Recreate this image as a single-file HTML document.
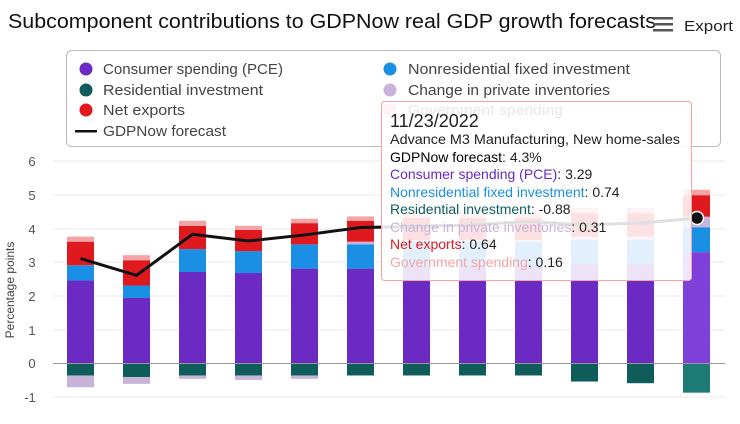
<!DOCTYPE html>
<html><head><meta charset="utf-8"><style>
html,body{margin:0;padding:0;background:#fff;}
svg{display:block;font-family:"Liberation Sans",sans-serif;}
</style></head><body>
<svg id="sv" width="740" height="424" viewBox="0 0 740 424" xmlns="http://www.w3.org/2000/svg">
<text x="8" y="28" font-size="20" fill="#111" textLength="648" lengthAdjust="spacingAndGlyphs">Subcomponent contributions to GDPNow real GDP growth forecasts</text>
<g fill="#555"><rect x="653" y="17" width="20" height="2.5"/><rect x="653" y="23" width="20" height="2.5"/><rect x="653" y="29" width="20" height="2.5"/></g>
<text x="684" y="31" font-size="15" fill="#222" textLength="49" lengthAdjust="spacingAndGlyphs">Export</text>
<rect x="66.5" y="50.5" width="654" height="96" rx="5" fill="#fff" stroke="#bbb"/>
<g font-size="15" fill="#444">
<circle cx="86" cy="69" r="6.5" fill="#6a2ac3"/><text x="103" y="74" textLength="180" lengthAdjust="spacingAndGlyphs">Consumer spending (PCE)</text>
<circle cx="86" cy="90" r="6.5" fill="#0e5d5b"/><text x="103" y="95" textLength="160" lengthAdjust="spacingAndGlyphs">Residential investment</text>
<circle cx="86" cy="110" r="6.5" fill="#e0191f"/><text x="103" y="115" textLength="82" lengthAdjust="spacingAndGlyphs">Net exports</text>
<rect x="75" y="130" width="22" height="2.5" fill="#111"/><text x="103" y="136" textLength="123" lengthAdjust="spacingAndGlyphs">GDPNow forecast</text>
<circle cx="390" cy="69" r="6.5" fill="#1a8fe3"/><text x="408" y="74" textLength="222" lengthAdjust="spacingAndGlyphs">Nonresidential fixed investment</text>
<circle cx="390" cy="90" r="6.5" fill="#c8b4d8"/><text x="408" y="95" textLength="202" lengthAdjust="spacingAndGlyphs">Change in private inventories</text>
<circle cx="390" cy="110" r="6.5" fill="#f4a4a4"/><text x="408" y="115" textLength="155" lengthAdjust="spacingAndGlyphs">Government spending</text>
</g>
<g font-size="13" fill="#555" text-anchor="middle">
<text x="32" y="166">6</text><text x="32" y="200">5</text><text x="32" y="234">4</text><text x="32" y="267">3</text><text x="32" y="301">2</text><text x="32" y="335">1</text><text x="32" y="368">0</text><text x="30" y="402">-1</text>
</g>
<text transform="translate(14,290) rotate(-90)" font-size="12" fill="#444" text-anchor="middle">Percentage points</text>
<g stroke="#e8e8e8" stroke-width="1">
<line x1="53" y1="161" x2="725" y2="161"/><line x1="53" y1="195" x2="725" y2="195"/><line x1="53" y1="229" x2="725" y2="229"/><line x1="53" y1="262" x2="725" y2="262"/><line x1="53" y1="296" x2="725" y2="296"/><line x1="53" y1="330" x2="725" y2="330"/><line x1="53" y1="397" x2="725" y2="397"/>
</g>
<g id="bars"></g>
<line x1="53" y1="363.5" x2="725" y2="363.5" stroke="#999" stroke-width="1"/>
<polyline id="ln" fill="none" stroke="#111" stroke-width="3"/>
<circle cx="697" cy="218" r="6.5" fill="#111" stroke="#fff" stroke-width="1.5"/>
<rect x="381.5" y="101.5" width="310" height="179" rx="3" fill="rgba(255,255,255,0.87)" stroke="#f4a4a4"/>
<g font-size="14" fill="#222">
<text x="390" y="127" font-size="18">11/23/2022</text>
<text x="390" y="144" textLength="290" lengthAdjust="spacingAndGlyphs">Advance M3 Manufacturing, New home-sales</text>
<text x="390" y="162"><tspan fill="#000">GDPNow forecast</tspan>: 4.3%</text>
<text x="390" y="179"><tspan fill="#6a2ac3">Consumer spending (PCE)</tspan>: 3.29</text>
<text x="390" y="197"><tspan fill="#1a8fe3">Nonresidential fixed investment</tspan>: 0.74</text>
<text x="390" y="214"><tspan fill="#0e5d5b">Residential investment</tspan>: -0.88</text>
<text x="390" y="232"><tspan fill="#c8b4d8">Change in private inventories</tspan>: 0.31</text>
<text x="390" y="249"><tspan fill="#e0191f">Net exports</tspan>: 0.64</text>
<text x="390" y="267"><tspan fill="#f4a4a4">Government spending</tspan>: 0.16</text>
</g>
<script>
(function(){
const NS="http://www.w3.org/2000/svg";
const Y=v=>363-33.7*v;
const d=[[2.45,.45,0,.7,.15,-.37,-.35],[1.93,.37,0,.75,.15,-.42,-.2],[2.7,.68,0,.69,.15,-.37,-.1],[2.67,.65,0,.63,.12,-.37,-.13],[2.8,.72,0,.63,.13,-.37,-.1],[2.8,.72,.08,.62,.13,-.37,0],
[2.9,.7,.05,.65,.15,-.37,0],[2.9,.7,.05,.65,.15,-.37,0],[2.9,.7,.05,.65,.15,-.37,0],[2.95,.7,.1,.7,.15,-.55,0],[2.95,.7,.1,.7,.15,-.6,0],[3.29,.74,.31,.64,.16,-.88,0]];
const col=['#6a2ac3','#1a8fe3','#c8b4d8','#e0191f','#f4a4a4'];
const line=[3.1,2.6,3.82,3.62,3.8,4.02,4.05,4.1,4.2,4.1,4.15,4.3];
const g=document.getElementById('bars');
function R(x,y,w,h,f){const r=document.createElementNS(NS,'rect');r.setAttribute('x',x);r.setAttribute('y',y);r.setAttribute('width',w);r.setAttribute('height',Math.max(0,h));r.setAttribute('fill',f);g.appendChild(r);}
const p=[];
d.forEach((r,i)=>{const x=67+56*i,w=27;let c=0;
 for(let k=0;k<5;k++){if(r[k]<=0)continue;const a=Y(c),b=Y(c+r[k]);let cl=col[k];if(i==11&&k==0)cl='#7f3fd9';R(x,b,w,a-b,cl);c+=r[k];}
 R(x,364,w,Y(r[5])-364,i==11?'#1e7a74':'#0e5d5b');
 if(r[6])R(x,Y(r[5]),w,-r[6]*33.7,'#c8b4d8');
 p.push((x+13.5)+','+Y(line[i]));});
document.getElementById('ln').setAttribute('points',p.join(' '));
})();
</script>
</svg>
</body></html>
